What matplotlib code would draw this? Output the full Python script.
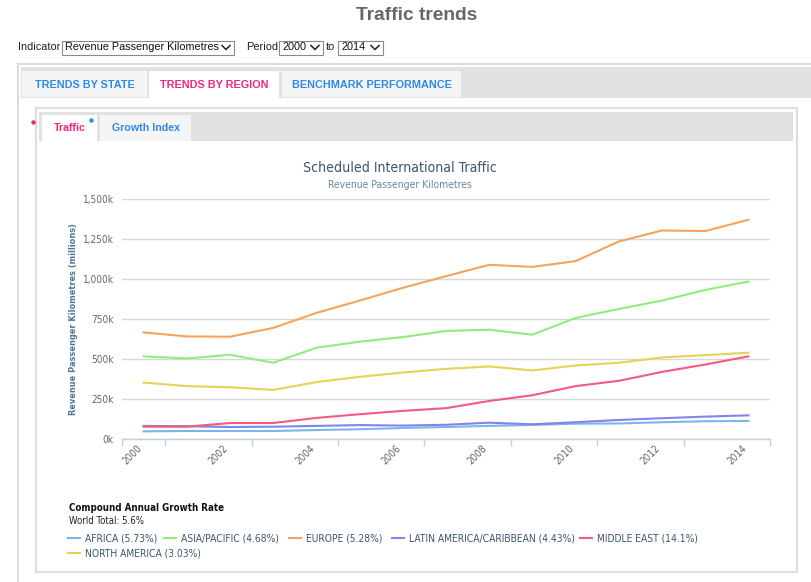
import matplotlib
matplotlib.use('Agg')
import matplotlib.pyplot as plt
from matplotlib.patches import Rectangle

# data (thousand million RPK)
years = list(range(2000, 2015))
africa = [48, 50, 50, 50, 56, 61, 69, 75, 82, 88, 96, 97, 105, 111, 113]
asia_pacific = [517, 504, 527, 477, 571, 609, 638, 676, 684, 653, 757, 814, 866, 933, 985]
europe = [667, 642, 640, 695, 789, 866, 946, 1019, 1090, 1077, 1113, 1236, 1305, 1301, 1372]
latin_america = [82, 80, 75, 77, 82, 87, 84, 89, 102, 92, 105, 119, 130, 140, 148]
middle_east = [77, 77, 100, 100, 132, 155, 176, 193, 238, 274, 331, 364, 420, 466, 517]
north_america = [353, 331, 324, 307, 356, 389, 416, 439, 454, 429, 460, 477, 510, 525, 540]

series_names = ['AFRICA (5.73%)', 'ASIA/PACIFIC (4.68%)', 'EUROPE (5.28%)',
                'LATIN AMERICA/CARIBBEAN (4.43%)', 'MIDDLE EAST (14.1%)', 'NORTH AMERICA (3.03%)']
series_values = [africa, asia_pacific, europe, latin_america, middle_east, north_america]
series_colors = ['#7cb5ec', '#90ed7d', '#f7a35c', '#8085e9', '#f15c80', '#e4d354']
y_ticks = [0, 250, 500, 750, 1000, 1250, 1500]

W, H = 812, 582
fig = plt.figure(figsize=(W / 100, H / 100), dpi=100)
fig.patch.set_facecolor('white')

# page chrome, drawn in pixel coordinates
bg = fig.add_axes([0, 0, 1, 1])
bg.set_xlim(0, W)
bg.set_ylim(H, 0)
bg.axis('off')

page_font = ['Liberation Sans', 'DejaVu Sans']
blue = '#2d8ae8'
pink = '#f2267f'

bg.text(417, 16, 'Traffic trends', ha='center', va='center', fontsize=13.8,
        fontweight='bold', color='#666666', family=page_font)

bg.text(18, 47.5, 'Indicator', ha='left', va='center', fontsize=7.9, color='#222222', family=page_font)
bg.text(246, 47.5, 'Period', ha='left', va='center', fontsize=7.9, color='#222222', family=page_font)
bg.text(326, 47.5, 'to', ha='left', va='center', fontsize=7.9, color='#222222', family=page_font)
for x0, x1, label in [(62, 234, 'Revenue Passenger Kilometres'), (279, 323, '2000'), (338, 383, '2014')]:
    bg.add_patch(Rectangle((x0, 40.5), x1 - x0, 14.5, facecolor='white', edgecolor='#8a8a8a', lw=0.8))
    bg.text(x0 + 3.5, 47.5, label, ha='left', va='center', fontsize=7.8, color='#111111', family=page_font)
    bg.plot([x1 - 12, x1 - 8, x1 - 4], [45.5, 49.5, 45.5], color='#222222', lw=1.1)

# outer tab panel
bg.add_patch(Rectangle((18, 64), 800, 530, facecolor='white', edgecolor='#dcdcdc', lw=1.5))
bg.add_patch(Rectangle((21, 67), 795, 30.5, facecolor='#e1e1e1', edgecolor='none'))
outer_tabs = [(22, 147, 'TRENDS BY STATE', False), (149, 279, 'TRENDS BY REGION', True),
              (282, 461, 'BENCHMARK PERFORMANCE', False)]
for x0, x1, label, sel in outer_tabs:
    bg.add_patch(Rectangle((x0, 71), x1 - x0, 27 if sel else 26,
                           facecolor='white' if sel else '#f5f5f5',
                           edgecolor='none'))
    bg.text((x0 + x1) / 2, 84.5, label, ha='center', va='center', fontsize=7.8,
            fontweight='bold', color=pink if sel else blue, family=page_font)

# inner tab panel
bg.add_patch(Rectangle((36.5, 108), 760.5, 464, facecolor='white', edgecolor='#dddddd', lw=1.5))
bg.add_patch(Rectangle((39.5, 111.5), 754, 29, facecolor='#e1e1e1', edgecolor='none'))
inner_tabs = [(42, 97, 'Traffic', True), (100.5, 191, 'Growth Index', False)]
for x0, x1, label, sel in inner_tabs:
    bg.add_patch(Rectangle((x0, 115), x1 - x0, 26 if sel else 25.5,
                           facecolor='white' if sel else '#f5f5f5', edgecolor='none'))
    bg.text((x0 + x1) / 2, 128, label, ha='center', va='center', fontsize=7.7,
            fontweight='bold', color=pink if sel else blue, family=page_font)
bg.plot([33.3], [121.5], 'o', ms=2.2, color=pink)
bg.plot([91.5], [120], 'o', ms=2.2, color=blue)

# chart titles (condensed DejaVu is closer to the narrow web font)
cf = dict(family='DejaVu Sans', fontstretch='condensed')
bg.text(400, 167.5, 'Scheduled International Traffic', ha='center', va='center',
        fontsize=10.1, color='#3e576f', **cf)
bg.text(400, 185, 'Revenue Passenger Kilometres', ha='center', va='center',
        fontsize=7.5, color='#6d869f', **cf)
bg.text(73.5, 319, 'Revenue Passenger Kilometres (millions)', ha='center', va='center',
        rotation=90, fontsize=6.6, fontweight='bold', color='#4d759e', **cf)

# legend block
bg.text(69, 508, 'Compound Annual Growth Rate', ha='left', va='center', fontsize=7.0,
        fontweight='bold', color='#111111', **cf)
bg.text(69, 520.5, 'World Total: 5.6%', ha='left', va='center', fontsize=6.9,
        color='#222222', **cf)
legend_pos = [(68, 538), (164, 538), (289, 538), (392, 538), (580, 538), (68, 552.5)]
for (lx, ly), name, color in zip(legend_pos, series_names, series_colors):
    bg.plot([lx, lx + 12], [ly, ly], color=color, lw=1.5)
    bg.text(lx + 17.5, ly + 0.5, name, ha='left', va='center', fontsize=7.4,
            color='#3e576f', **cf)

# the chart itself
ax = fig.add_axes([122 / W, (H - 439) / H, (770 - 122) / W, (439 - 199.3) / H])
ax.patch.set_alpha(0)
for vals, color in zip(series_values, series_colors):
    ax.plot(years, vals, color=color, lw=1.5, solid_joinstyle='round')

ax.set_xlim(years[0] - 0.5, years[-1] + 0.5)
ax.set_ylim(0, 1500)
ax.set_yticks(y_ticks)
ax.set_yticklabels(['{:,}k'.format(v) for v in y_ticks], **cf)
ax.yaxis.grid(True, color='#d8d8d8', lw=1)
ax.set_axisbelow(True)
ax.tick_params(axis='y', length=0, pad=6, labelsize=7.2, labelcolor='#666666')

ax.set_xticks(years[::2])
ax.set_xticklabels([str(y) for y in years[::2]], rotation=45, ha='right', va='top', **cf)
ax.set_xticks([years[0] - 0.5] + [y + 0.5 for y in years[::2]], minor=True)
ax.tick_params(axis='x', which='major', length=0, pad=3, labelsize=7.2, labelcolor='#666666')
ax.tick_params(axis='x', which='minor', length=5, width=1, color='#c0d0e0')

for side in ['top', 'right', 'left']:
    ax.spines[side].set_visible(False)
ax.spines['bottom'].set_color('#c0d0e0')
ax.spines['bottom'].set_linewidth(1)

fig.savefig('out.png', dpi=100)
